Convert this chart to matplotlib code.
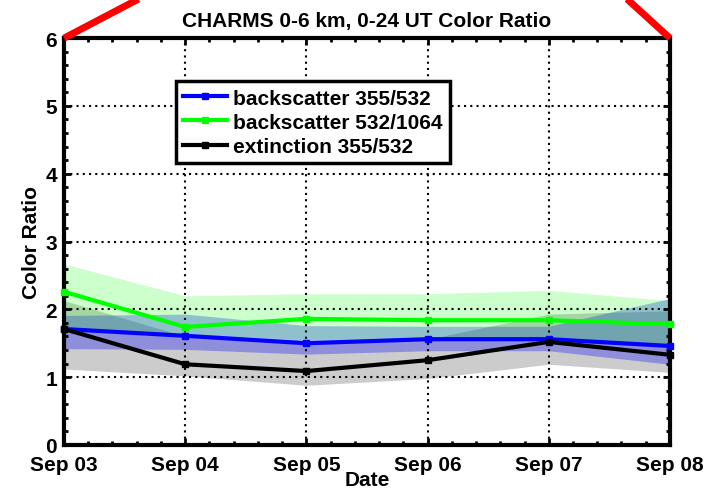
import numpy as np
import matplotlib
matplotlib.use('Agg')
import matplotlib.pyplot as plt
from matplotlib.ticker import MultipleLocator, AutoMinorLocator

plt.rcParams['font.family'] = ['Liberation Sans', 'DejaVu Sans']
plt.rcParams['font.weight'] = 'bold'

# Daily means and spread bands
dates = ['Sep 03', 'Sep 04', 'Sep 05', 'Sep 06', 'Sep 07', 'Sep 08']

bsc_355_532 = [1.71, 1.61, 1.50, 1.56, 1.56, 1.46]
bsc_355_532_lo = [1.42, 1.41, 1.34, 1.39, 1.39, 1.19]
bsc_355_532_hi = [1.91, 1.93, 1.76, 1.75, 1.75, 2.16]

bsc_532_1064 = [2.26, 1.74, 1.86, 1.84, 1.84, 1.78]
bsc_532_1064_lo = [1.71, 1.63, 1.56, 1.56, 1.56, 1.50]
bsc_532_1064_hi = [2.67, 2.20, 2.23, 2.23, 2.28, 2.13]

ext_355_532 = [1.71, 1.19, 1.09, 1.25, 1.52, 1.33]
ext_355_532_lo = [1.12, 1.02, 0.88, 0.98, 1.19, 1.07]
ext_355_532_hi = [2.13, 1.60, 1.54, 1.56, 1.93, 1.98]

x = np.arange(len(dates))
fs = 15

fig = plt.figure(figsize=(7.12, 4.89), dpi=100)
ax = fig.add_axes([0.0899, 0.088, 0.851, 0.832])

# shaded spreads
ax.fill_between(x, ext_355_532_lo, ext_355_532_hi, color='black', alpha=0.2, lw=0)
ax.fill_between(x, bsc_355_532_lo, bsc_355_532_hi, color='blue', alpha=0.3, lw=0)
ax.fill_between(x, bsc_532_1064_lo, bsc_532_1064_hi, color='lime', alpha=0.2, lw=0)

ax.plot(x, bsc_355_532, '-s', color='blue', lw=3, ms=4, label='backscatter 355/532', clip_on=False, zorder=5)
ax.plot(x, bsc_532_1064, '-s', color='lime', lw=3, ms=4, label='backscatter 532/1064', clip_on=False, zorder=5)
ax.plot(x, ext_355_532, '-s', color='black', lw=3, ms=4, label='extinction 355/532', clip_on=False, zorder=5)

ax.set_xlim(0, len(dates) - 1)
ax.set_ylim(0, 6)
ax.set_xticks(x)
ax.set_xticklabels(dates)
ax.yaxis.set_major_locator(MultipleLocator(1))
ax.xaxis.set_minor_locator(AutoMinorLocator(5))
ax.yaxis.set_minor_locator(AutoMinorLocator(5))
ax.tick_params(which='both', direction='in', top=True, right=True, labelsize=fs, width=2)
ax.tick_params(which='major', length=5)
ax.tick_params(which='minor', length=3)
for lbl in ax.get_xticklabels() + ax.get_yticklabels():
    lbl.set_fontweight('bold')
ax.tick_params(axis='x', pad=7.5)
ax.tick_params(axis='y', pad=5)

ax.grid(True, which='major', color='black', linestyle=(0, (1, 2)), linewidth=1.5)
ax.set_axisbelow(False)
for s in ax.spines.values():
    s.set_linewidth(3)

ax.set_title('CHARMS 0-6 km, 0-24 UT Color Ratio', fontsize=15, fontweight='bold', pad=9)
ax.set_xlabel('Date', fontsize=fs, fontweight='bold', labelpad=-3.5)
ax.set_ylabel('Color Ratio', fontsize=fs, fontweight='bold', labelpad=3)

leg = ax.legend(loc='upper left', bbox_to_anchor=(0.185, 0.894), borderaxespad=0,
                fancybox=False, framealpha=1, edgecolor='black', fontsize=fs,
                handlelength=2.1, handletextpad=0.3, labelspacing=0.25, borderpad=0.35)
leg.get_frame().set_linewidth(2.5)
for t in leg.get_texts():
    t.set_fontweight('bold')

# red outline leading up from the top corners
ax.plot([0, 1.6], [6, 7.5], color='red', lw=5, clip_on=False, zorder=6, solid_capstyle='butt')
ax.plot([5, 4.08], [6, 7.5], color='red', lw=5, clip_on=False, zorder=6, solid_capstyle='butt')

fig.savefig('out.png', dpi=100)
